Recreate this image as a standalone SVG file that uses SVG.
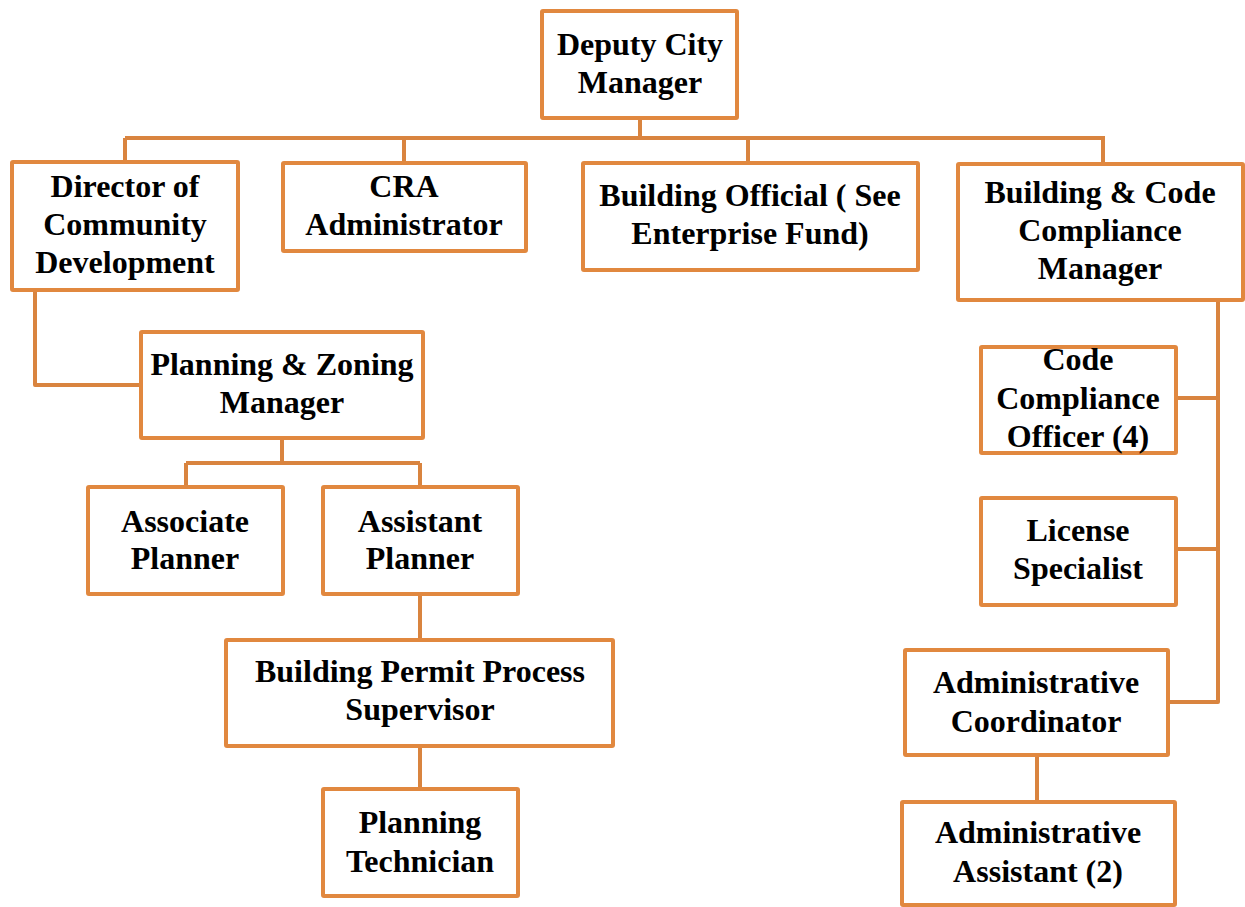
<svg xmlns="http://www.w3.org/2000/svg" width="1245" height="907" viewBox="0 0 1245 907">
<style>
.box{fill:#fff;stroke:#E1883F;stroke-width:4}
.t{font-family:"Liberation Serif","Times New Roman",serif;font-weight:bold;font-size:32px;fill:#000;text-anchor:middle}
.c{fill:none;stroke:#D9843F;stroke-width:4;stroke-linejoin:round}
</style>
<rect width="1245" height="907" fill="#fff"/>
<g id="connectors">
<path class="c" d="M640,118 V138 M125,138 H1105 M125,138 V162 M404,138 V163 M748,138 V163 M1103,138 V164"/>
<path class="c" d="M35,290 V385 H141"/>
<path class="c" d="M282,438 V463 M186,463 H420 M186,463 V487 M420,463 V487"/>
<path class="c" d="M420,595 V640 M420,746 V789"/>
<path class="c" d="M1218,300 V702 H1168 M1176,398 H1218 M1176,549 H1218"/>
<path class="c" d="M1037,755 V802"/>
</g>
<g id="deputy-city-manager">
<rect class="box" x="542" y="11" width="195" height="107" rx="1"/>
<text class="t" x="640" y="55">Deputy City</text>
<text class="t" x="640" y="93">Manager</text>
</g>
<g id="director-community-development">
<rect class="box" x="12" y="162" width="226" height="128" rx="1"/>
<text class="t" x="125" y="197">Director of</text>
<text class="t" x="125" y="235">Community</text>
<text class="t" x="125" y="273">Development</text>
</g>
<g id="cra-administrator">
<rect class="box" x="283" y="163" width="243" height="88" rx="1"/>
<text class="t" x="404" y="197">CRA</text>
<text class="t" x="404" y="235">Administrator</text>
</g>
<g id="building-official">
<rect class="box" x="583" y="163" width="335" height="107" rx="1"/>
<text class="t" x="750" y="206">Building Official ( See</text>
<text class="t" x="750" y="244">Enterprise Fund)</text>
</g>
<g id="building-code-compliance-manager">
<rect class="box" x="958" y="164" width="285" height="136" rx="1"/>
<text class="t" x="1100" y="203">Building &amp; Code</text>
<text class="t" x="1100" y="241">Compliance</text>
<text class="t" x="1100" y="279">Manager</text>
</g>
<g id="code-compliance-officer">
<rect class="box" x="981" y="347" width="195" height="106" rx="1"/>
<text class="t" x="1078" y="370">Code</text>
<text class="t" x="1078" y="409">Compliance</text>
<text class="t" x="1078" y="447">Officer (4)</text>
</g>
<g id="license-specialist">
<rect class="box" x="981" y="498" width="195" height="107" rx="1"/>
<text class="t" x="1078" y="541">License</text>
<text class="t" x="1078" y="579">Specialist</text>
</g>
<g id="administrative-coordinator">
<rect class="box" x="905" y="650" width="263" height="105" rx="1"/>
<text class="t" x="1036" y="693">Administrative</text>
<text class="t" x="1036" y="732">Coordinator</text>
</g>
<g id="administrative-assistant">
<rect class="box" x="902" y="802" width="273" height="103" rx="1"/>
<text class="t" x="1038" y="843">Administrative</text>
<text class="t" x="1038" y="882">Assistant (2)</text>
</g>
<g id="planning-zoning-manager">
<rect class="box" x="141" y="332" width="282" height="106" rx="1"/>
<text class="t" x="282" y="375">Planning &amp; Zoning</text>
<text class="t" x="282" y="413">Manager</text>
</g>
<g id="associate-planner">
<rect class="box" x="88" y="487" width="195" height="107" rx="1"/>
<text class="t" x="185" y="532">Associate</text>
<text class="t" x="185" y="569">Planner</text>
</g>
<g id="assistant-planner">
<rect class="box" x="323" y="487" width="195" height="107" rx="1"/>
<text class="t" x="420" y="532">Assistant</text>
<text class="t" x="420" y="569">Planner</text>
</g>
<g id="building-permit-process-supervisor">
<rect class="box" x="226" y="640" width="387" height="106" rx="1"/>
<text class="t" x="420" y="682">Building Permit Process</text>
<text class="t" x="420" y="720">Supervisor</text>
</g>
<g id="planning-technician">
<rect class="box" x="323" y="789" width="195" height="107" rx="1"/>
<text class="t" x="420" y="833">Planning</text>
<text class="t" x="420" y="872">Technician</text>
</g>
</svg>
